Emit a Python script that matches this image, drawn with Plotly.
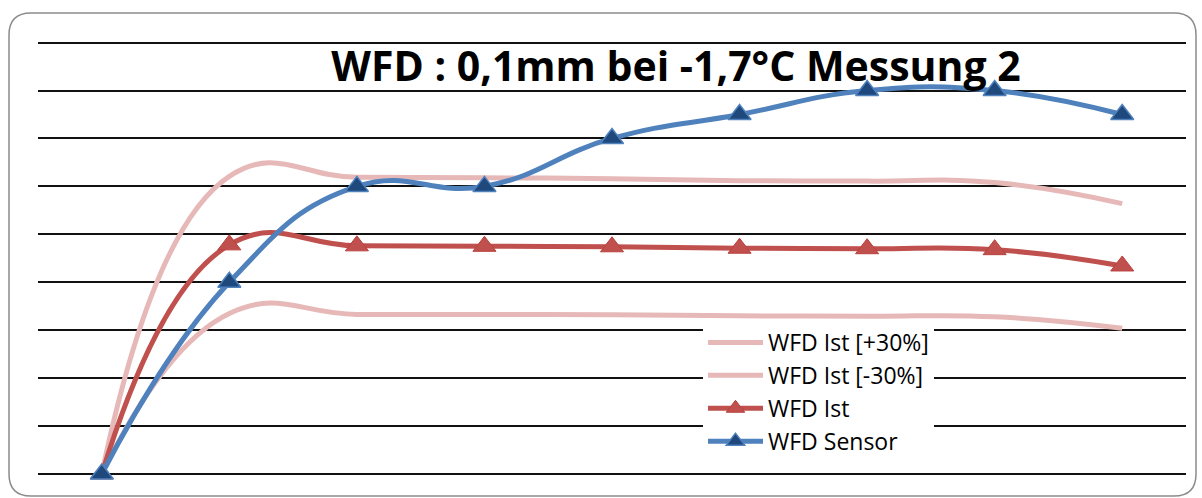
import plotly.graph_objects as go

# Measurement points (categories along the x axis)
points = [1, 2, 3, 4, 5, 6, 7, 8, 9]

# Series values
wfd_plus30 = [0, 6.21, 6.19, 6.18, 6.16, 6.12, 6.11, 6.08, 5.64]
wfd_minus30 = [0, 3.35, 3.33, 3.33, 3.32, 3.30, 3.29, 3.28, 3.04]
wfd_ist = [0, 4.78, 4.76, 4.75, 4.74, 4.71, 4.70, 4.68, 4.34]
wfd_sensor = [0, 4.0, 6.0, 6.0, 7.0, 7.5, 8.0, 8.0, 7.5]

series_names = ["WFD Ist [+30%]", "WFD Ist [-30%]", "WFD Ist", "WFD Sensor"]
title_text = "WFD : 0,1mm bei -1,7°C Messung 2"

W, H = 1202, 498
Y_TOP = 9.2
ML, MR, MT, MB = 38, 16, 33, 24

PINK = "#E6B9B8"
RED = "#C0504D"
BLUE = "#4F81BD"
BLUE_DARK = "#1F497D"
SMOOTH = 1.3

fig = go.Figure()

for vals, name in [(wfd_plus30, series_names[0]), (wfd_minus30, series_names[1])]:
    fig.add_trace(go.Scatter(
        x=points, y=vals, name=name, mode="lines",
        line=dict(color=PINK, width=5, shape="spline", smoothing=SMOOTH),
        legendgroup=name, cliponaxis=False,
    ))

fig.add_trace(go.Scatter(
    x=points, y=wfd_ist, name=series_names[2], mode="lines+markers",
    line=dict(color=RED, width=5, shape="spline", smoothing=SMOOTH),
    marker=dict(symbol="triangle-up", size=20, color=RED,
                line=dict(color="#B9403D", width=1)),
    legendgroup=series_names[2], cliponaxis=False,
))

fig.add_trace(go.Scatter(
    x=points, y=wfd_sensor, name=series_names[3], mode="lines+markers",
    line=dict(color=BLUE, width=5, shape="spline", smoothing=SMOOTH),
    marker=dict(symbol="triangle-up", size=20, color=BLUE_DARK,
                line=dict(color=BLUE, width=1.5)),
    legendgroup=series_names[3], cliponaxis=False,
))

# Rounded chart-area frame, expressed in paper coordinates
pw, ph = W - ML - MR, H - MT - MB


def px_x(p):
    return (p - ML) / pw


def px_y(p):
    return (H - MB - p) / ph


x0, x1, y0, y1, r = 9, 1196, 13, 496, 22
path = (
    f"M {px_x(x0 + r)},{px_y(y0)} L {px_x(x1 - r)},{px_y(y0)} "
    f"Q {px_x(x1)},{px_y(y0)} {px_x(x1)},{px_y(y0 + r)} "
    f"L {px_x(x1)},{px_y(y1 - r)} "
    f"Q {px_x(x1)},{px_y(y1)} {px_x(x1 - r)},{px_y(y1)} "
    f"L {px_x(x0 + r)},{px_y(y1)} "
    f"Q {px_x(x0)},{px_y(y1)} {px_x(x0)},{px_y(y1 - r)} "
    f"L {px_x(x0)},{px_y(y0 + r)} "
    f"Q {px_x(x0)},{px_y(y0)} {px_x(x0 + r)},{px_y(y0)} Z"
)
fig.add_shape(type="path", path=path, xref="paper", yref="paper",
              line=dict(color="#8C8C8C", width=1.5), layer="below")

fig.update_layout(
    width=W, height=H,
    margin=dict(l=ML, r=MR, t=MT, b=MB),
    paper_bgcolor="white", plot_bgcolor="white",
    font=dict(family="Open Sans, sans-serif", color="black"),
    title=dict(
        text=f"<b>{title_text}</b>",
        font=dict(size=41, family="Open Sans, sans-serif", color="black"),
        x=px_x(676), xref="paper", xanchor="center",
        y=1 - 67 / H, yref="container", yanchor="middle",
    ),
    xaxis=dict(range=[0.5, 9.5], showgrid=False, zeroline=False,
               showticklabels=False, showline=False, ticks=""),
    yaxis=dict(range=[0, Y_TOP], dtick=1, tick0=0, showgrid=True,
               gridcolor="#111111", gridwidth=1.6, zeroline=True,
               zerolinecolor="#111111", zerolinewidth=1.6,
               showticklabels=False, showline=False, ticks=""),
    showlegend=True,
    legend=dict(
        x=px_x(703), y=px_y(321), xanchor="left", yanchor="top",
        bgcolor="white", borderwidth=0,
        font=dict(size=23, family="Open Sans, sans-serif", color="black"),
        tracegroupgap=4, itemwidth=55, traceorder="normal",
    ),
)

fig.write_html("out.html")
